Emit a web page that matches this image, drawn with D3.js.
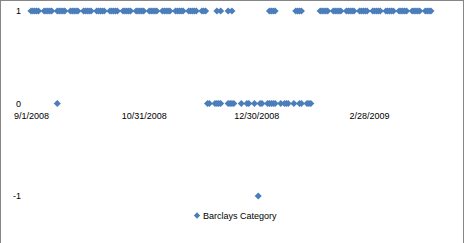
<!DOCTYPE html>
<html>
<head>
<meta charset="utf-8">
<script src="https://cdn.jsdelivr.net/npm/d3@7"></script>
<style>
  body { margin: 0; background: #fff; }
  svg { display: block; font-family: "Liberation Sans", Arial, sans-serif; }
</style>
</head>
<body>
<svg width="465" height="243"></svg>
<script>
const width = 465;
const height = 243;

// trading weeks (Monday of each week)
const weekStarts = [
    "2008-09-01", "2008-09-08", "2008-09-15", "2008-09-22", "2008-09-29",
    "2008-10-06", "2008-10-13", "2008-10-20", "2008-10-27", "2008-11-03",
    "2008-11-10", "2008-11-17", "2008-11-24", "2008-12-01", "2008-12-08",
    "2008-12-15", "2008-12-22", "2008-12-29", "2009-01-05", "2009-01-12",
    "2009-01-19", "2009-01-26", "2009-02-02", "2009-02-09", "2009-02-16",
    "2009-02-23", "2009-03-02", "2009-03-09", "2009-03-16", "2009-03-23",
    "2009-03-30"
];

// Mon..Fri flags per week: "x" = a point with that category value
const catUp = [
    "xxxxx", "xxxxx", "xxxxx", "xxxxx", "xxxxx",
    "xxxxx", "xxxxx", "xxxxx", "xxxxx", "xxxxx",
    "xxxxx", "xxxxx", "xxxxx", "xxx..", ".x.x.",
    "x.x..", ".....", ".....", ".xxxx", ".....",
    ".xxxx", ".....", "xxxxx", "xxxxx", "xxxxx",
    "xxxxx", "xxxxx", "xxxxx", "xxxxx", "xxxxx",
    "xxxx."
];
const catFlat = [
    ".....", ".....", "x....", ".....", ".....",
    ".....", ".....", ".....", ".....", ".....",
    ".....", ".....", ".....", "...xx", "xxxx.",
    "xxxx.", "x..xx", "x..xx", "xxxxx", "x.xxx",
    "x..xx", "xxx..", ".....", ".....", ".....",
    ".....", ".....", ".....", ".....", ".....",
    "....."
];
const catDown = [
    ".....", ".....", ".....", ".....", ".....",
    ".....", ".....", ".....", ".....", ".....",
    ".....", ".....", ".....", ".....", ".....",
    ".....", ".....", "..x..", ".....", ".....",
    ".....", ".....", ".....", ".....", ".....",
    ".....", ".....", ".....", ".....", ".....",
    "....."
];

const xTicks = ["2008-09-01", "2008-10-31", "2008-12-30", "2009-02-28"];
const yTicks = [-1, 0, 1];
const seriesName = "Barclays Category";

const parse = d3.utcParse("%Y-%m-%d");
const fmt = d3.utcFormat("%-m/%-d/%Y");
const color = "#4a7ebb";

function toPoints(masks, value) {
    const pts = [];
    masks.forEach((m, i) => {
        const monday = parse(weekStarts[i]);
        m.split("").forEach((c, j) => {
            if (c === "x") pts.push({ date: d3.utcDay.offset(monday, j), value: value });
        });
    });
    return pts;
}

const points = [].concat(toPoints(catUp, 1), toPoints(catFlat, 0), toPoints(catDown, -1));

const svg = d3.select("svg");

svg.append("rect")
    .attr("x", 0.5).attr("y", 0.5)
    .attr("width", 463).attr("height", 270)
    .attr("fill", "#fff")
    .attr("stroke", "#868686");

const x = d3.scaleUtc()
    .domain([parse(xTicks[0]), parse(xTicks[3])])
    .range([31, 369]);

const y = d3.scaleLinear()
    .domain([-1, 1])
    .range([196, 11]);

const xAxis = svg.append("g")
    .attr("transform", `translate(0,${y(0)})`)
    .call(d3.axisBottom(x)
        .tickValues(xTicks.map(parse))
        .tickFormat(fmt)
        .tickSize(0)
        .tickPadding(9));
xAxis.select(".domain").remove();

const yAxis = svg.append("g")
    .attr("transform", "translate(22,0)")
    .call(d3.axisLeft(y)
        .tickValues(yTicks)
        .tickFormat(d => String(d))
        .tickSize(0)
        .tickPadding(1));
yAxis.select(".domain").remove();

svg.selectAll(".tick text")
    .attr("font-size", 9)
    .attr("font-family", "Liberation Sans, Arial, sans-serif")
    .attr("fill", "#000");

const diamond = d3.symbol(d3.symbolSquare, 25);

svg.append("g")
    .selectAll("path")
    .data(points)
    .enter()
    .append("path")
    .attr("d", diamond)
    .attr("transform", d => `translate(${x(d.date)},${y(d.value)}) rotate(45)`)
    .attr("fill", color);

// legend
const legend = svg.append("g").attr("transform", "translate(197,215.5)");
legend.append("path")
    .attr("d", d3.symbol(d3.symbolSquare, 20))
    .attr("transform", "rotate(45)")
    .attr("fill", color);
legend.append("text")
    .attr("x", 6)
    .attr("dy", "0.35em")
    .attr("font-size", 9)
    .attr("fill", "#000")
    .text(seriesName);
</script>
</body>
</html>
